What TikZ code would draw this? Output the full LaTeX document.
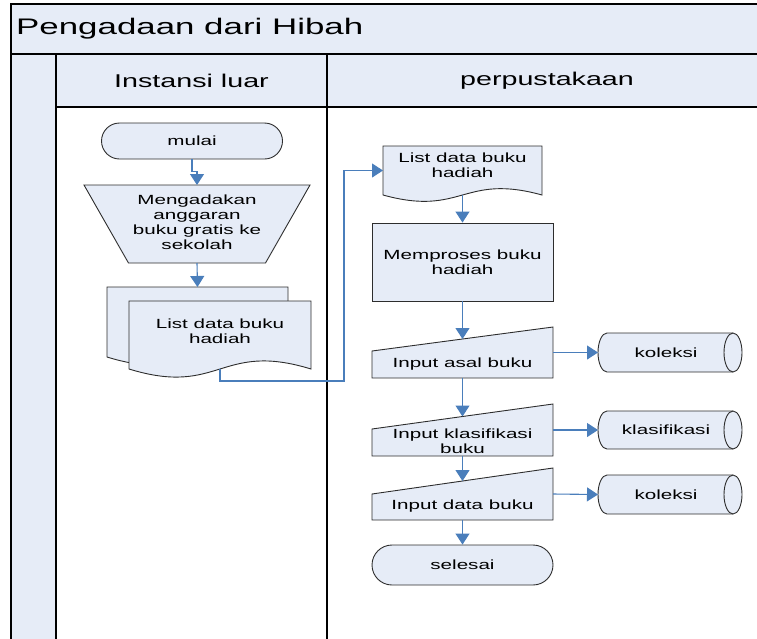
\documentclass[tikz,border=0pt]{standalone}
\usepackage{fontspec}
\usetikzlibrary{arrows.meta,calc,shapes.misc}
\newfontfamily\dfont[FakeStretch=1.55]{Liberation Sans}
\definecolor{lanefill}{RGB}{230,236,247}
\definecolor{flowblue}{RGB}{74,126,187}
\definecolor{edge}{RGB}{45,45,45}

\begin{document}
\begin{tikzpicture}[x=1pt,y=-1pt,
  lane/.style={draw=black, line width=1.4pt},
  symbol/.style={draw=edge, fill=lanefill, line width=0.9pt},
  area/.style={draw=none, inner sep=0pt, outer sep=0pt},
  lbl/.style={font=\dfont\fontsize{13.3}{15}\selectfont, align=center, inner sep=0pt},
  head/.style={font=\dfont\fontsize{18.5}{22}\selectfont, inner sep=0pt},
  terminal/.style={symbol, lbl, rounded rectangle, minimum width=181pt},
  flow/.style={draw=flowblue, line width=1.1pt, -{Triangle[length=11pt,width=14pt]}}]

\useasboundingbox (0,0) rectangle (757,638);
\clip (0,0) rectangle (757,638);

% swimlane frame
\fill[lanefill] (11,4) rectangle (780,107);
\fill[lanefill] (11,107) rectangle (56,650);
\draw[lane] (11,650) -- (11,4) -- (780,4);
\draw[lane] (11,54) -- (780,54);
\draw[lane] (56,107) -- (780,107);
\draw[lane] (56,54) -- (56,650);
\draw[lane] (327,54) -- (327,650);

\node[anchor=west, inner sep=0pt, font=\dfont\fontsize{22.5}{26}\selectfont] (title) at (16,29) {Pengadaan dari Hibah};
\node[head] (lane1) at (191.5,81) {Instansi luar};
\node[head] (lane2) at (547,81) {perpustakaan};

% Instansi luar
\node[terminal, minimum height=36pt] (mulai) at (192,141) {mulai};

\node[area, minimum width=226pt, minimum height=78pt] (manop) at (197,224) {};
\draw[symbol] (manop.north west) -- (manop.north east)
  -- ($(manop.south east)+(-44.5,0)$) -- ($(manop.south west)+(44.5,0)$) -- cycle;
\node[lbl] (manop-t) at (197,222) {Mengadakan\\anggaran\\buku gratis ke\\sekolah};

\node[area, minimum width=181pt, minimum height=70pt] (mback) at (197.5,322) {};
\draw[symbol] (mback.north west) -- (mback.north east) -- (mback.south east)
  .. controls ($(mback.south)+(0,-28)$) and ($(mback.south)+(0,28)$) .. (mback.south west) -- cycle;
\node[area, minimum width=182pt, minimum height=68pt] (mfront) at (220,335) {};
\draw[symbol] (mfront.north west) -- (mfront.north east) -- (mfront.south east)
  .. controls ($(mfront.south)+(0,-28)$) and ($(mfront.south)+(0,28)$) .. (mfront.south west) -- cycle;
\node[lbl] (mfront-t) at (220,331) {List data buku\\hadiah};

% perpustakaan
\node[area, minimum width=159pt, minimum height=49pt] (rdoc) at (462.5,170.5) {};
\draw[symbol] (rdoc.north west) -- (rdoc.north east) -- (rdoc.south east)
  .. controls ($(rdoc.south)+(0,-22)$) and ($(rdoc.south)+(0,22)$) .. (rdoc.south west) -- cycle;
\node[lbl] (rdoc-t) at (462.5,165) {List data buku\\hadiah};

\node[symbol, lbl, minimum width=181pt, minimum height=78pt] (proc) at (462.5,262) {Memproses buku\\hadiah};

\node[area, minimum width=181pt, minimum height=51pt] (in1) at (462.5,352.5) {};
\draw[symbol] ($(in1.north west)+(0,24)$) -- (in1.north east) -- (in1.south east) -- (in1.south west) -- cycle;
\node[lbl] (in1-t) at (462.5,364) {Input asal buku};

\node[area, minimum width=181pt, minimum height=52pt] (in2) at (462.5,430) {};
\draw[symbol] ($(in2.north west)+(0,25)$) -- (in2.north east) -- (in2.south east) -- (in2.south west) -- cycle;
\node[lbl] (in2-t) at (462.5,441) {Input klasifikasi\\buku};

\node[area, minimum width=181pt, minimum height=52pt] (in3) at (462.5,494) {};
\draw[symbol] ($(in3.north west)+(0,26)$) -- (in3.north east) -- (in3.south east) -- (in3.south west) -- cycle;
\node[lbl] (in3-t) at (462.5,506) {Input data buku};

\node[terminal, minimum height=40pt] (selesai) at (462.5,565) {selesai};

% storage cylinders
\foreach \name/\cy/\h/\txt in {cyl1/352.5/39/koleksi, cyl2/430/38/klasifikasi, cyl3/494.5/39/koleksi}{
  \node[area, minimum width=144pt, minimum height=\h pt] (\name) at (670,\cy) {};
  \draw[symbol] ($(\name.north west)+(9,0)$) -- ($(\name.north east)+(-9,0)$)
    arc[start angle=90, end angle=-90, x radius=9pt, y radius=\h pt/2]
    -- ($(\name.south west)+(9,0)$)
    arc[start angle=270, end angle=90, x radius=9pt, y radius=\h pt/2] -- cycle;
  \draw[symbol, fill=none] ($(\name.north east)+(-9,0)$)
    arc[start angle=90, end angle=270, x radius=9pt, y radius=\h pt/2];
  \node[lbl] (\name-t) at (666,\cy) {\txt};
}

% connectors
\coordinate (jog) at (344,381);
\coordinate (in1-top) at ($(in1.north)+(0,12)$);
\coordinate (in2-top) at ($(in2.north)+(0,12.5)$);
\coordinate (in3-top) at ($(in3.north)+(0,13)$);

\draw[flow] (mulai.south) -- ++(0,12) -| (manop.north);
\draw[flow] (manop.south) -- (mback.north);
\draw[flow] (mfront.south) |- (jog) |- (rdoc.west);
\draw[flow] (rdoc.south) -- (proc.north);
\draw[flow] (proc.south) -- (in1-top);
\draw[flow] (in1.east) -- (cyl1.west);
\draw[flow] (in1.south) -- (in2-top);
\draw[flow] (in2.east) -- (cyl2.west);
\draw[flow] (in2.south) -- (in3-top);
\draw[flow] (in3.east) -- (cyl3.west);
\draw[flow] (in3.south) -- (selesai.north);
\end{tikzpicture}
\end{document}
